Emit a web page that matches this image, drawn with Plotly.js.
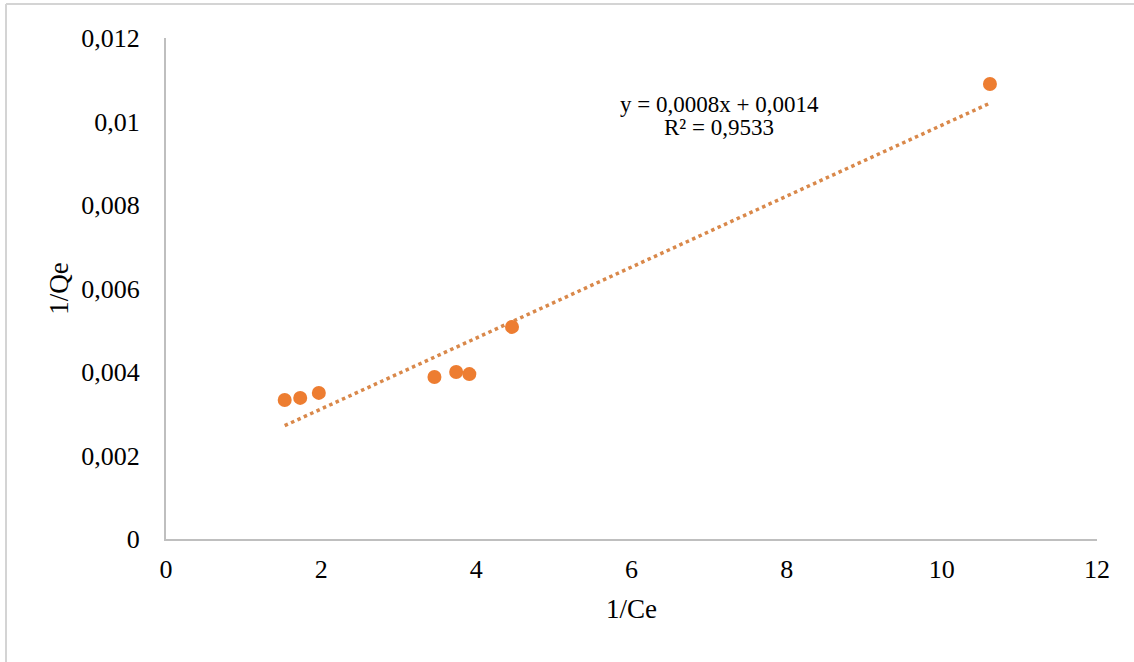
<!DOCTYPE html>
<html>
<head>
<meta charset="utf-8">
<script src="https://cdn.plot.ly/plotly-3.0.1.min.js"></script>
<style>
html,body{margin:0;padding:0;background:#fff;}
#chart{width:1134px;height:662px;}
</style>
</head>
<body>
<div id="chart"></div>
<script>
// Data
const invCe = [1.53, 1.73, 1.97, 3.46, 3.74, 3.91, 4.46, 10.62];
const invQe = [0.00333, 0.00338, 0.00350, 0.00388, 0.00400, 0.00395, 0.00508, 0.01090];
const equationText = "y = 0,0008x + 0,0014";
const r2Text = "R² = 0,9533";
const xTitle = "1/Ce";
const yTitle = "1/Qe";

// Linear trendline (least squares)
const n = invCe.length;
const mx = invCe.reduce((a,b)=>a+b,0)/n;
const my = invQe.reduce((a,b)=>a+b,0)/n;
let sxy=0, sxx=0;
for(let i=0;i<n;i++){ sxy+=(invCe[i]-mx)*(invQe[i]-my); sxx+=(invCe[i]-mx)**2; }
const slope = sxy/sxx, icpt = my - slope*mx;
const xmin = Math.min(...invCe), xmax = Math.max(...invCe);
const trendX = [xmin, xmax];
const trendY = trendX.map(x => icpt + slope*x);

const font = "'Liberation Serif', 'Times New Roman', serif";

const traces = [
  {x: trendX, y: trendY, mode:'lines', type:'scatter',
   line:{color:'#D9884A', width:3.5, dash:'dot'}, hoverinfo:'skip', showlegend:false},
  {x: invCe, y: invQe, mode:'markers', type:'scatter',
   marker:{color:'#ED7D31', size:14}, showlegend:false}
];

const layout = {
  width:1134, height:662,
  margin:{l:166, r:37, t:38, b:123},
  paper_bgcolor:'#ffffff', plot_bgcolor:'#ffffff',
  separators:', ',
  font:{family:font, size:26, color:'#000'},
  showlegend:false,
  xaxis:{range:[0,12], dtick:2, tick0:0, showgrid:false, zeroline:false,
    showline:true, linecolor:'#bfbfbf', linewidth:2, ticks:'', ticklen:0, ticklabelstandoff:6,
    tickfont:{family:font, size:26, color:'#000'},
    title:{text:xTitle, font:{family:font, size:27, color:'#000'}, standoff:16}},
  yaxis:{range:[0,0.012], dtick:0.002, tick0:0, showgrid:false, zeroline:false,
    showline:true, linecolor:'#bfbfbf', linewidth:2, ticks:'', ticklen:0, ticklabelstandoff:19,
    tickfont:{family:font, size:26, color:'#000'},
    title:{text:yTitle, font:{family:font, size:27, color:'#000'}, standoff:5}},
  annotations:[
    {xref:'paper', yref:'paper', x:(719-166)/931, y:(539-104)/501, text:equationText,
     showarrow:false, font:{family:font, size:23, color:'#000'}, xanchor:'center', yanchor:'middle'},
    {xref:'paper', yref:'paper', x:(719-166)/931, y:(539-128)/501, text:r2Text,
     showarrow:false, font:{family:font, size:23, color:'#000'}, xanchor:'center', yanchor:'middle'}
  ],
  shapes:[
    {type:'line', xref:'paper', yref:'paper', x0:(6-166)/931, x1:(6-166)/931, y0:(539-662)/501, y1:(539-4)/501,
     line:{color:'#d4d4d4', width:2}},
    {type:'line', xref:'paper', yref:'paper', x0:(6-166)/931, x1:(1134-166)/931, y0:(539-4)/501, y1:(539-4)/501,
     line:{color:'#d4d4d4', width:2}}
  ]
};

Plotly.newPlot('chart', traces, layout, {displayModeBar:false, staticPlot:true});
</script>
</body>
</html>
